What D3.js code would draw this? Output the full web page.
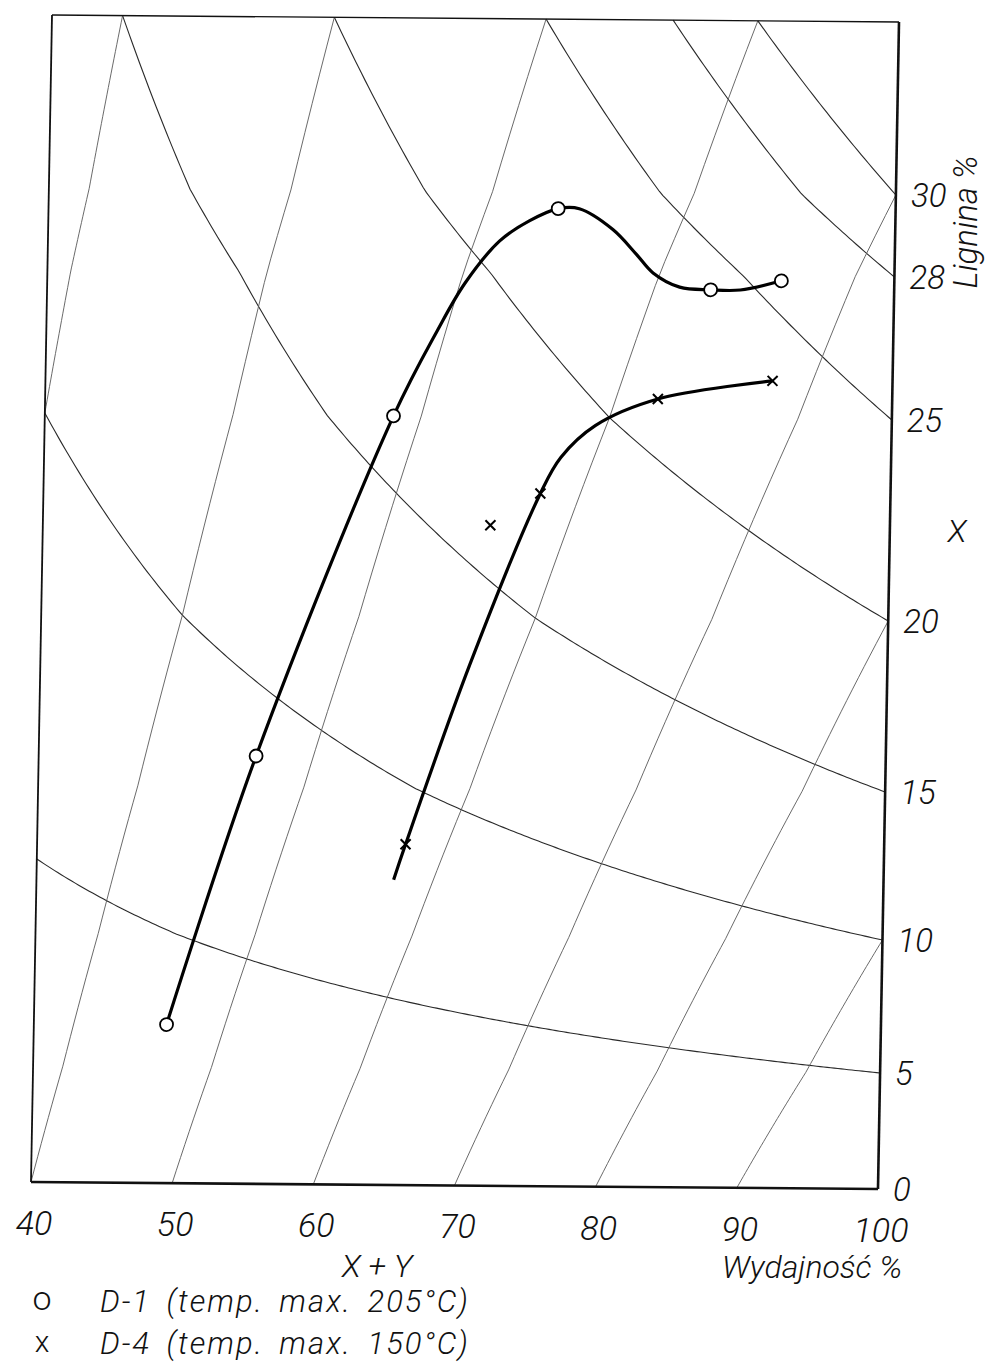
<!DOCTYPE html>
<html>
<head>
<meta charset="utf-8">
<script src="https://d3js.org/d3.v7.min.js"></script>
<style>
  body { margin: 0; background: #fff; }
  text {
    font-family: Roboto, "Liberation Sans", sans-serif;
    font-style: italic;
    font-weight: 300;
    fill: #111;
  }
</style>
</head>
<body>
<svg id="chart" width="990" height="1363"></svg>
<script>
// axis ticks
const yieldTicks = [40, 50, 60, 70, 80, 90, 100];
const ligninTicks = [0, 5, 10, 15, 20, 25, 28, 30];
const topLignin = 100 / 3;

// nomogram families: X (lignin on wood) curves, Y straight lines
const xLevels = [5, 10, 15, 20, 25, 28, 30];
const yLevels = [30, 40, 50, 60, 70, 80, 90];

// D-1 (temp. max. 205 C), measured points: yield %, lignin %
const d1Yield = [49.4, 55.4, 64.7, 76.1, 87.0, 92.0];
const d1Lignin = [6.6, 15.9, 25.0, 29.6, 27.7, 27.9];
// hand drawn curve of D-1
const d1CurveYield = [49.4, 55.4, 64.7, 67.7, 69.6, 72.0, 74.1, 76.1, 77.6, 80.0, 81.7, 82.9, 84.8, 87.0, 89.1, 92.0];
const d1CurveLignin = [6.6, 15.9, 25.0, 26.8, 27.8, 28.8, 29.3, 29.6, 29.6, 29.1, 28.5, 28.05, 27.75, 27.7, 27.7, 27.9];

// D-4 (temp. max. 150 C)
const d4Yield = [66.1, 71.7, 75.2, 83.4, 91.5];
const d4Lignin = [13.1, 22.3, 23.1, 25.4, 25.8];
const d4CurveYield = [65.3, 66.1, 70.4, 75.2, 76.6, 79.0, 83.4, 91.5];
const d4CurveLignin = [11.9, 13.1, 18.6, 23.1, 24.0, 24.8, 25.4, 25.8];

const W = 847, H = 1167;
// the scanned sheet is slightly skewed
const skew = { a: 1, b: 0.00826, c: -0.018, d: 1, e: 52, f: 15 };
const P = (x, y) => [skew.a * x + skew.c * y + skew.e, skew.b * x + skew.d * y + skew.f];

const x = d3.scaleLinear().domain([40, 100]).range([0, W]);
// lignin scale of the drawing (non-linear, read at the right edge)
const y = d3.scaleLinear()
  .domain([0, 5, 10, 15, 20, 25, 28, 30, topLignin])
  .range([H, H - 116, H - 249, H - 397, H - 568, H - 769, H - 912, H - 994, 0]);

const svg = d3.select('#chart');
const g = svg.append('g')
  .attr('transform', `matrix(${skew.a},${skew.b},${skew.c},${skew.d},${skew.e},${skew.f})`);

const line = d3.line().x(d => x(d[0])).y(d => y(d[1]));

// constant X curves: lignin = 100 X / yield
xLevels.forEach(X => {
  const w0 = Math.max(40, 3 * X);
  const pts = d3.range(w0, 100.001, 0.25).map(w => [w, 100 * X / w]);
  g.append('path')
    .attr('d', line(pts))
    .attr('fill', 'none')
    .attr('stroke', '#2a2a2a')
    .attr('stroke-width', 1.1);
});

// constant Y lines: yield = Y / (1 - lignin/100)
yLevels.forEach(Y => {
  const l0 = Math.max(0, 100 * (1 - Y / 40));
  const l1 = Math.min(topLignin, 100 * (1 - Y / 100));
  const pts = d3.range(l0, l1 + 0.001, (l1 - l0) / 60).map(l => [Y / (1 - l / 100), l]);
  g.append('path')
    .attr('d', line(pts))
    .attr('fill', 'none')
    .attr('stroke', '#5a5a5a')
    .attr('stroke-width', 0.9);
});

// frame
g.append('line').attr('x1', 0).attr('y1', 0).attr('x2', W).attr('y2', 0)
  .attr('stroke', '#111').attr('stroke-width', 1.4);
g.append('line').attr('x1', 0).attr('y1', 0).attr('x2', 0).attr('y2', H)
  .attr('stroke', '#111').attr('stroke-width', 1.8);
g.append('line').attr('x1', 0).attr('y1', H).attr('x2', W).attr('y2', H)
  .attr('stroke', '#111').attr('stroke-width', 2.6);
g.append('line').attr('x1', W).attr('y1', 0).attr('x2', W).attr('y2', H)
  .attr('stroke', '#111').attr('stroke-width', 2.6);

// data curves
const curve = d3.line().x(d => x(d[0])).y(d => y(d[1])).curve(d3.curveCatmullRom.alpha(0.5));
g.append('path')
  .attr('d', curve(d1CurveYield.map((w, i) => [w, d1CurveLignin[i]])))
  .attr('fill', 'none').attr('stroke', '#000').attr('stroke-width', 3.2);
g.append('path')
  .attr('d', curve(d4CurveYield.map((w, i) => [w, d4CurveLignin[i]])))
  .attr('fill', 'none').attr('stroke', '#000').attr('stroke-width', 3.2);

g.selectAll('.d1')
  .data(d1Yield.map((w, i) => [w, d1Lignin[i]]))
  .enter()
  .append('circle')
  .attr('class', 'd1')
  .attr('cx', d => x(d[0]))
  .attr('cy', d => y(d[1]))
  .attr('r', 6.5)
  .attr('fill', '#fff')
  .attr('stroke', '#000')
  .attr('stroke-width', 1.8);

const s = 5;
g.selectAll('.d4')
  .data(d4Yield.map((w, i) => [w, d4Lignin[i]]))
  .enter()
  .append('path')
  .attr('class', 'd4')
  .attr('d', d => {
    const cx = x(d[0]), cy = y(d[1]);
    return `M${cx - s},${cy - s}L${cx + s},${cy + s}M${cx - s},${cy + s}L${cx + s},${cy - s}`;
  })
  .attr('stroke', '#000')
  .attr('stroke-width', 2);

// bottom tick labels
yieldTicks.forEach(t => {
  const p = P(x(t), H);
  svg.append('text')
    .attr('x', p[0] + 3).attr('y', p[1] + 53)
    .attr('text-anchor', 'middle')
    .attr('font-size', 34)
    .text(t);
});

// right tick labels
ligninTicks.forEach(t => {
  const p = P(W, y(t));
  svg.append('text')
    .attr('x', p[0] + 15).attr('y', p[1] + 12)
    .attr('font-size', 33)
    .text(t);
});

svg.append('text').attr('x', 377).attr('y', 1277)
  .attr('text-anchor', 'middle').attr('font-size', 32).text('X + Y');
svg.append('text').attr('x', 722).attr('y', 1278)
  .attr('font-size', 32).text('Wydajność %');
svg.append('text').attr('x', 957).attr('y', 542)
  .attr('text-anchor', 'middle').attr('font-size', 32).text('X');
svg.append('text')
  .attr('transform', 'translate(977,222) rotate(-90)')
  .attr('text-anchor', 'middle').attr('font-size', 33).text('Lignina %');

// legend
const legend = [['o', 'D-1 (temp. max. 205°C)'], ['x', 'D-4 (temp. max. 150°C)']];
legend.forEach((d, i) => {
  svg.append('text').attr('x', 42).attr('y', 1310 + i * 42)
    .attr('text-anchor', 'middle').attr('font-size', i === 0 ? 34 : 30)
    .style('font-style', 'normal').text(d[0]);
  svg.append('text').attr('x', 100).attr('y', 1312 + i * 42)
    .attr('font-size', 31).attr('letter-spacing', 2).attr('word-spacing', 6).text(d[1]);
});
</script>
</body>
</html>
